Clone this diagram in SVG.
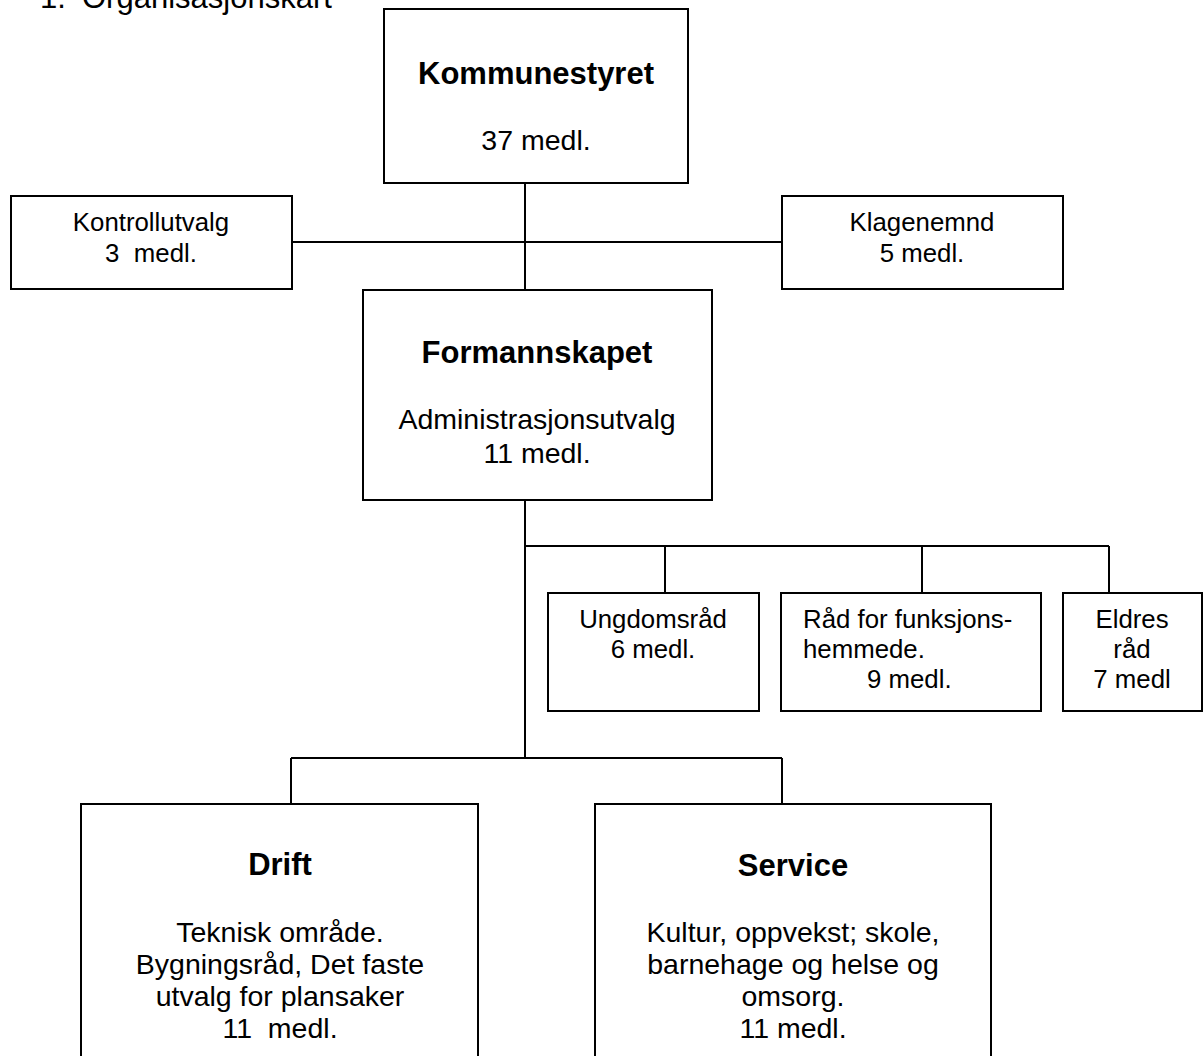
<svg xmlns="http://www.w3.org/2000/svg" width="1203" height="1056" viewBox="0 0 1203 1056">
<style>
.box{fill:#fff;stroke:#000;stroke-width:2}
.ln{fill:none;stroke:#000;stroke-width:2}
text{font-family:"Liberation Sans",Arial,Helvetica,sans-serif;fill:#000;text-anchor:middle}
.t{font-size:28.5px}
.b{font-size:31px;font-weight:bold}
.s{font-size:25.8px}
.st{text-anchor:start}
.pre{white-space:pre}
</style>
<rect width="1203" height="1056" fill="#fff"/>
<g id="title">
<text class="st" x="40" y="8" style="font-size:31px">1.</text>
<text class="st" x="82" y="8" style="font-size:31px">Organisasjonskart</text>
</g>
<g id="connectors" class="ln">
<path d="M525 183V290M292 242H782M525 500V758M525 546H1109M665 546V593M922 546V593M1109 546V593M291 758H782M291 758V804M782 758V804"/>
</g>
<g id="kommunestyret">
<rect class="box" x="384" y="9" width="304" height="174"/>
<text class="b" x="536" y="84">Kommunestyret</text>
<text class="t" x="536" y="150">37 medl.</text>
</g>
<g id="kontrollutvalg">
<rect class="box" x="11" y="196" width="281" height="93"/>
<text class="s" x="151" y="231">Kontrollutvalg</text>
<text class="s pre" x="151" y="262">3  medl.</text>
</g>
<g id="klagenemnd">
<rect class="box" x="782" y="196" width="281" height="93"/>
<text class="s" x="922" y="231">Klagenemnd</text>
<text class="s" x="922" y="262">5 medl.</text>
</g>
<g id="formannskapet">
<rect class="box" x="363" y="290" width="349" height="210"/>
<text class="b" x="537" y="363">Formannskapet</text>
<text class="t" x="537" y="429">Administrasjonsutvalg</text>
<text class="t" x="537" y="463">11 medl.</text>
</g>
<g id="ungdomsrad">
<rect class="box" x="548" y="593" width="211" height="118"/>
<text class="s" x="653" y="628">Ungdomsråd</text>
<text class="s" x="653" y="658">6 medl.</text>
</g>
<g id="rad-funksjonshemmede">
<rect class="box" x="781" y="593" width="260" height="118"/>
<text class="s st" x="803" y="628">Råd for funksjons-</text>
<text class="s st" x="803" y="658">hemmede.</text>
<text class="s st" x="867" y="688">9 medl.</text>
</g>
<g id="eldresrad">
<rect class="box" x="1063" y="593" width="139" height="118"/>
<text class="s" x="1132" y="628">Eldres</text>
<text class="s" x="1132" y="658">råd</text>
<text class="s" x="1132" y="688">7 medl</text>
</g>
<g id="drift">
<rect class="box" x="81" y="804" width="397" height="270"/>
<text class="b" x="280" y="875">Drift</text>
<text class="t" x="280" y="942">Teknisk område.</text>
<text class="t" x="280" y="974">Bygningsråd, Det faste</text>
<text class="t" x="280" y="1006">utvalg for plansaker</text>
<text class="t pre" x="280" y="1038">11  medl.</text>
</g>
<g id="service">
<rect class="box" x="595" y="804" width="396" height="270"/>
<text class="b" x="793" y="876">Service</text>
<text class="t" x="793" y="942">Kultur, oppvekst; skole,</text>
<text class="t" x="793" y="974">barnehage og helse og</text>
<text class="t" x="793" y="1006">omsorg.</text>
<text class="t" x="793" y="1038">11 medl.</text>
</g>
</svg>
